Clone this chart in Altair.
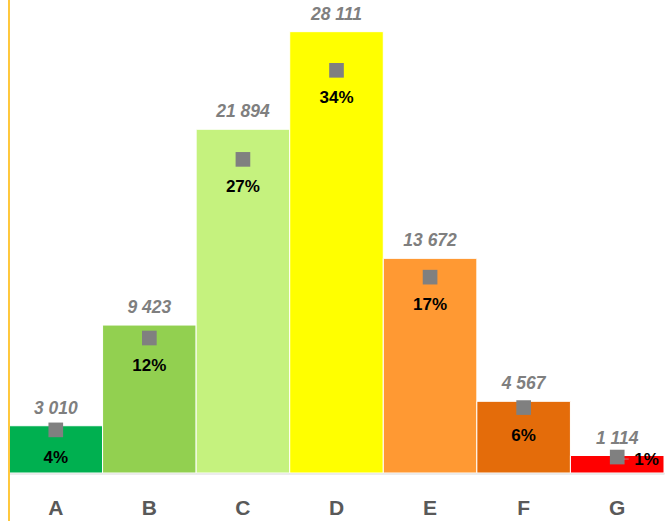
import altair as alt
import pandas as pd

categories = ["A", "B", "C", "D", "E", "F", "G"]
values = [3010, 9423, 21894, 28111, 13672, 4567, 1114]
colors = ["#00B050", "#92D050", "#C5F27E", "#FFFF00", "#FF9933", "#E46C0A", "#FF0000"]

df = pd.DataFrame({"cat": categories, "value": values, "color": colors})

FONT = "Liberation Sans"

x = alt.X("cat:N", sort=categories,
          scale=alt.Scale(paddingInner=0, paddingOuter=0),
          axis=alt.Axis(title=None, labelAngle=0, labelFont=FONT, labelFontSize=21,
                        labelFontWeight="bold", labelColor="#595959", labelPadding=24,
                        ticks=False, domainColor="#D9D9D9", domainWidth=2))

base = alt.Chart(df).transform_joinaggregate(total="sum(value)").transform_calculate(
    pct="datum.value / datum.total",
    vlabel="replace(format(datum.value, ','), ',', ' ')",
    plabel="format(datum.value / datum.total, '.0%')",
)

yv = alt.Y("value:Q", scale=alt.Scale(domain=[0, 30000]), axis=None)
yp = alt.Y("pct:Q", scale=alt.Scale(domain=[0, 0.402]), axis=None)

bars = base.mark_bar(stroke="white", strokeWidth=1).encode(
    x=x, y=yv, color=alt.Color("color:N", scale=None))

vlabels = base.mark_text(baseline="alphabetic", dy=-12, font=FONT, fontSize=17.5,
                         fontStyle="italic", fontWeight="bold", color="#7F7F7F").encode(
    x=alt.X("cat:N", sort=categories), y=yv, text="vlabel:N")

left = alt.layer(bars, vlabels)

squares = base.mark_square(size=215, color="#808080", opacity=1).encode(
    x=alt.X("cat:N", sort=categories), y=yp)

plabels = base.transform_filter("datum.cat != 'G'").mark_text(
    baseline="middle", dy=28, font=FONT, fontSize=17, fontWeight="bold", color="black").encode(
    x=alt.X("cat:N", sort=categories), y=yp, text="plabel:N")

glabel = base.transform_filter("datum.cat == 'G'").mark_text(
    baseline="middle", align="left", dx=17, dy=3, font=FONT, fontSize=17,
    fontWeight="bold", color="black").encode(
    x=alt.X("cat:N", sort=categories), y=yp, text="plabel:N")

gleader = base.transform_filter("datum.cat == 'G'").mark_tick(
    orient="horizontal", size=5, thickness=1, color="#A6A6A6", xOffset=9, yOffset=2).encode(
    x=alt.X("cat:N", sort=categories), y=yp)

right = alt.layer(squares, gleader, plabels, glabel)

vline = alt.Chart(df).mark_rule(color="#FFC83D", strokeWidth=2).encode(
    x=alt.value(0), y=alt.value(-2), y2=alt.value(521))

chart = alt.layer(left, right, vline).resolve_scale(y="independent").properties(
    width=655, height=471, autosize="none",
    padding={"left": 9, "top": 2, "right": 6, "bottom": 48},
).configure_view(stroke=None)

chart.save("out.html", embed_options={"renderer": "svg", "actions": False})
